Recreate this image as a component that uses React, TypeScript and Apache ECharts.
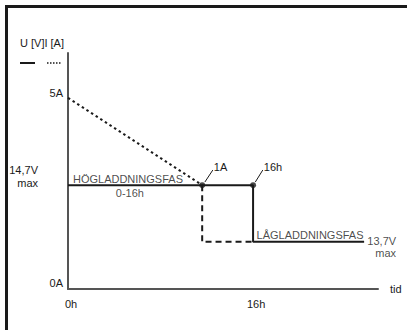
import React, { useEffect, useRef } from "react";
import * as echarts from "echarts";

// Schematic charging diagram (arbitrary level units, time in hours)
const xTickValues = [0, 16];
const xTickLabels = ["0h", "16h"];
const yLabelPos = [0.25, 8.3];
const yTickLabels = ["0A", "5A"];
const vLabelPos = 4.75;
const vLabel = "14,7V\nmax";

// voltage (solid)
const voltage = [[0, 4.4], [16, 4.4], [16, 2.0], [25.6, 2.0]];
// current (dotted then dashed)
const currentDotted = [[0, 8.1], [11.6, 4.4]];
const currentDashed = [[11.6, 4.4], [11.6, 2.0], [16, 2.0]];
// marked points
const markPts = [[11.6, 4.4], [16, 4.4]];
// leader lines for callouts
const leader1 = [[11.83, 4.53], [12.52, 5.04]];
const leader2 = [[16.19, 4.53], [16.84, 5.04]];
const calloutText = ["1A", "16h"];
// phase annotations
const annoText = ["HÖGLADDNINGSFAS", "0-16h", "LÅGLADDNINGSFAS"];
const annoPos = [[0.43, 4.66], [5.35, 4.05], [16.3, 2.29]];
const annoAlign = ["left", "center", "left"];
const endLabel = "13,7V\nmax";

const FONT = "Liberation Sans, Arial, sans-serif";
const TXT = "#1a1a1a";

const lbl = {
  show: true,
  fontSize: 11,
  color: TXT,
  fontFamily: FONT,
  textBorderWidth: 0,
  textShadowBlur: 0,
};

export default function App() {
  const ref = useRef<HTMLDivElement>(null);
  useEffect(() => {
    const chart = echarts.init(ref.current!, null, { renderer: "svg" });
    const baseGraphic = [
      {
        id: "border",
        type: "polyline",
        shape: { points: [[6.5, 330], [6.5, 6.5], [407, 6.5]] },
        style: { stroke: "#1a1a1a", lineWidth: 3, fill: null },
      },
      {
        id: "unit",
        type: "text",
        x: 20,
        y: 43,
        style: { text: "U [V]I [A]", fontSize: 11, fontFamily: FONT, fill: TXT, verticalAlign: "middle" },
      },
      {
        id: "legSolid",
        type: "line",
        shape: { x1: 20, y1: 63, x2: 35, y2: 63 },
        style: { stroke: "#1a1a1a", lineWidth: 2 },
      },
      {
        id: "legDot",
        type: "line",
        shape: { x1: 47, y1: 63, x2: 62, y2: 63 },
        style: { stroke: "#1a1a1a", lineWidth: 1.5, lineDash: [1.5, 1.5] },
      },
    ];
    const leaderSeries = [leader1, leader2].map((d, i) => ({
      type: "line",
      data: d,
      symbol: "none",
      lineStyle: { color: "#1a1a1a", width: 1 },
      endLabel: {
        show: true,
        formatter: calloutText[i],
        color: TXT,
        fontSize: 11,
        fontFamily: FONT,
        distance: 1,
        offset: [0, -3],
        textBorderWidth: 0,
      },
    }));
    chart.setOption({
      animation: false,
      textStyle: { fontFamily: FONT, color: TXT },
      grid: { left: 68, right: 29, top: 53, bottom: 41, containLabel: false },
      xAxis: {
        type: "value",
        min: 0,
        max: 26.8,
        splitLine: { show: false },
        axisTick: { show: false },
        axisLine: { lineStyle: { color: "#555", width: 2 } },
        name: "tid",
        nameLocation: "end",
        nameGap: 12,
        nameTextStyle: { fontSize: 11, color: TXT, fontFamily: FONT },
        axisLabel: {
          customValues: xTickValues,
          formatter: (v: number) => xTickLabels[xTickValues.indexOf(v)] ?? "",
          fontSize: 11,
          color: TXT,
          margin: 9,
          padding: [0, 0, 0, 6],
        },
      },
      yAxis: {
        type: "value",
        min: 0,
        max: 10,
        splitLine: { show: false },
        axisTick: { show: false },
        axisLine: { lineStyle: { color: "#555", width: 2 } },
        axisLabel: {
          customValues: yLabelPos,
          margin: 5,
          fontSize: 11,
          color: TXT,
          formatter: (v: number) => yTickLabels[yLabelPos.indexOf(v)] ?? "",
        },
      },
      graphic: baseGraphic,
      series: [
        {
          type: "line",
          data: currentDotted,
          symbol: "none",
          lineStyle: { color: "#1a1a1a", width: 2, type: [2.5, 3] },
          z: 2,
        },
        {
          type: "line",
          data: currentDashed,
          symbol: "none",
          lineStyle: { color: "#1a1a1a", width: 2, type: [6, 4] },
          z: 2,
        },
        {
          type: "line",
          data: voltage,
          symbol: "none",
          lineStyle: { color: "#1a1a1a", width: 2 },
          z: 3,
        },
        ...leaderSeries,
        {
          type: "scatter",
          data: markPts,
          symbol: "circle",
          symbolSize: 6,
          itemStyle: { color: "#1a1a1a" },
          z: 4,
        },
        {
          type: "scatter",
          clip: false,
          symbolSize: 0,
          data: [
            ...annoPos.map((p, i) => ({
              value: p,
              label: {
                ...lbl,
                formatter: annoText[i],
                position: [0, 0],
                align: annoAlign[i],
                verticalAlign: "middle",
              },
            })),
            {
              value: voltage[voltage.length - 1],
              label: {
                ...lbl,
                formatter: endLabel,
                position: [32, 5],
                align: "right",
                verticalAlign: "middle",
                lineHeight: 12,
              },
            },
          ],
          itemStyle: { color: "rgba(0,0,0,0)" },
          z: 5,
        },
      ],
    });
    const [, py] = chart.convertToPixel({ gridIndex: 0 }, [0, vLabelPos]) as number[];
    chart.setOption({
      graphic: [
        ...baseGraphic,
        {
          id: "vlabel",
          type: "text",
          x: 38,
          y: py,
          style: {
            text: vLabel,
            fontSize: 11,
            lineHeight: 13,
            fontFamily: FONT,
            fill: TXT,
            align: "right",
            verticalAlign: "middle",
          },
        },
      ],
    });
    return () => chart.dispose();
  }, []);
  return (
    <div
      ref={ref}
      style={{ position: "absolute", left: 0, top: 0, width: 407, height: 330, background: "#fff" }}
    />
  );
}
